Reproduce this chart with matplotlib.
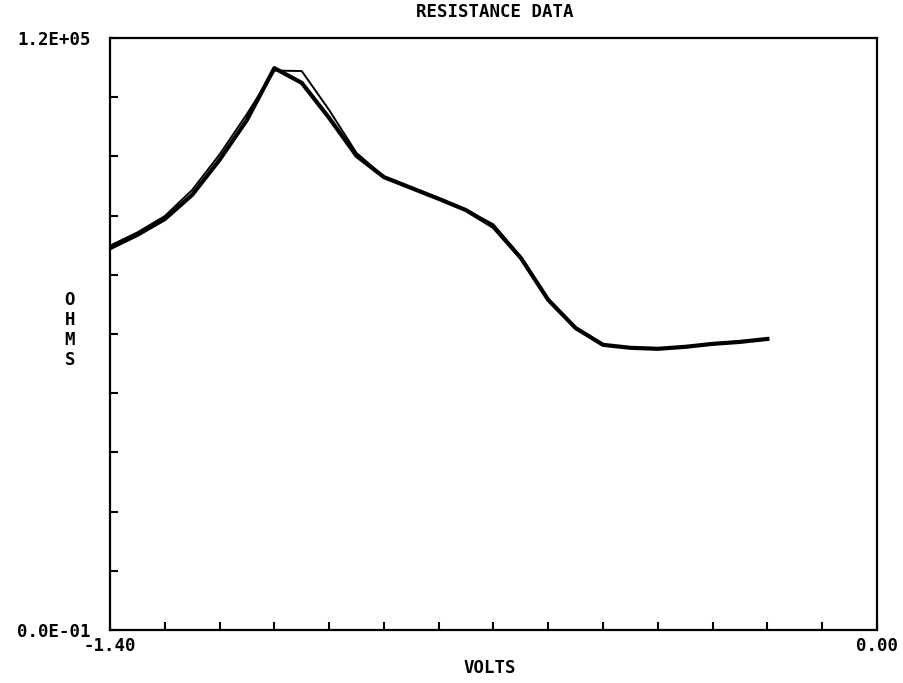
import numpy as np
import matplotlib.pyplot as plt

# data
volts = [-1.40, -1.35, -1.30, -1.25, -1.20, -1.15, -1.10, -1.05, -1.00, -0.95,
         -0.90, -0.85, -0.80, -0.75, -0.70, -0.65, -0.60, -0.55, -0.50, -0.45,
         -0.40, -0.35, -0.30, -0.25, -0.20]
ohms_a = [77400, 80100, 83300, 88200, 95300, 103400, 113900, 110900, 103800, 96100,
          91800, 89600, 87400, 85100, 81700, 75400, 66900, 61200, 57800, 57200,
          57000, 57400, 58000, 58400, 59000]
ohms_b = [77900, 80600, 83900, 89200, 96400, 104600, 113400, 113300, 105400, 96700,
          91900, 89700, 87500, 85200, 82200, 75600, 67100, 61300, 57800, 57200,
          57000, 57400, 58000, 58400, 59000]

x_ticks = np.arange(-1.40, 0.001, 0.10)
y_ticks = np.arange(0, 120001, 12000)
x_labels = ['-1.40'] + [''] * 13 + ['0.00']
y_labels = ['0.0E-01'] + [''] * 9 + ['1.2E+05']

font = dict(family='DejaVu Sans Mono', fontweight='bold', fontsize=12.5)

fig = plt.figure(figsize=(9.04, 6.83), dpi=100)
ax = fig.add_axes([110 / 904, 1 - 630 / 683, 767 / 904, 592 / 683])

ax.plot(volts, ohms_a, color='black', linewidth=3.0, solid_joinstyle='round')
ax.plot(volts, ohms_b, color='black', linewidth=1.4)

ax.set_xlim(-1.40, 0.0)
ax.set_ylim(0, 120000)
ax.set_xticks(x_ticks)
ax.set_yticks(y_ticks)
ax.set_xticklabels(x_labels, **font)
ax.set_yticklabels(y_labels, **font)
ax.tick_params(direction='in', length=5.5, width=1.5, pad=5)
ax.tick_params(axis='y', pad=14)
for s in ax.spines.values():
    s.set_linewidth(1.6)

fig.text(495 / 904, 1 - 12 / 683, 'RESISTANCE DATA', ha='center', va='center', **font)
fig.text(490 / 904, 1 - 668 / 683, 'VOLTS', ha='center', va='center', **font)
fig.text(70 / 904, 1 - 330 / 683, 'O\nH\nM\nS', ha='center', va='center',
         linespacing=1.15, **font)

plt.savefig('out.png', dpi=100)
plt.close()
